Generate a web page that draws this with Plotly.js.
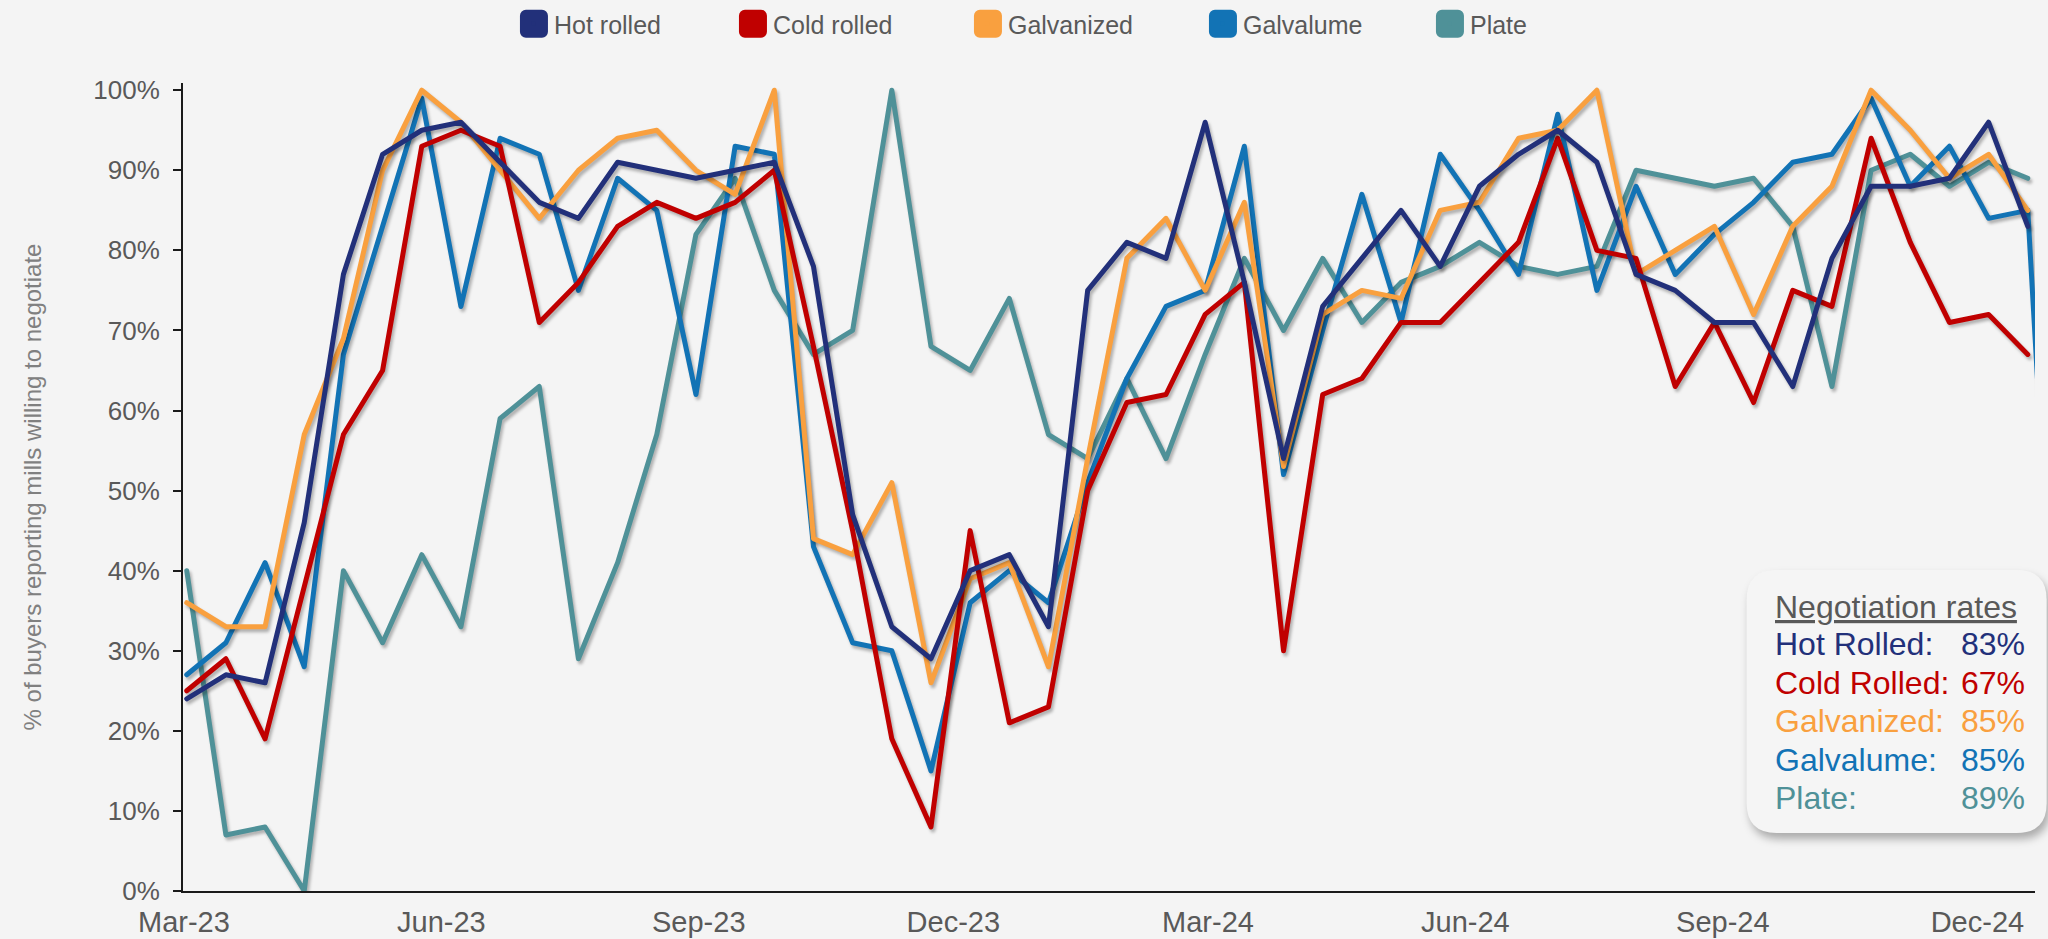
<!DOCTYPE html>
<html><head><meta charset="utf-8">
<script src="https://cdn.plot.ly/plotly-3.0.1.min.js"></script>
<style>
html,body{margin:0;padding:0;background:#f4f4f4;}
#chart{width:2048px;height:939px;}
.scatterlayer .trace path.js-line{filter:url(#lineShadow);stroke-linejoin:round;stroke-linecap:round;}
.shapelayer path{filter:url(#boxShadow);}
.legend .legendpoints path.scatterpts{stroke-width:12px !important;stroke-linejoin:round;}
</style></head><body>
<svg width="0" height="0" style="position:absolute"><defs>
<filter id="lineShadow" x="-5%" y="-10%" width="110%" height="125%" color-interpolation-filters="sRGB">
<feDropShadow dx="2" dy="3" stdDeviation="1.6" flood-color="#000" flood-opacity="0.28"/></filter>
<filter id="boxShadow" x="-10%" y="-10%" width="125%" height="140%" color-interpolation-filters="sRGB">
<feDropShadow dx="3" dy="6" stdDeviation="4" flood-color="#000" flood-opacity="0.3"/></filter>
</defs></svg>
<div id="chart"></div>
<script>
// ---- data ----
const dates = ['2023-03-02','2023-03-16','2023-03-30','2023-04-13','2023-04-27','2023-05-11','2023-05-25','2023-06-08','2023-06-22','2023-07-06','2023-07-20','2023-08-03','2023-08-17','2023-08-31','2023-09-14','2023-09-28','2023-10-12','2023-10-26','2023-11-09','2023-11-23','2023-12-07','2023-12-21','2024-01-04','2024-01-18','2024-02-01','2024-02-15','2024-02-29','2024-03-14','2024-03-28','2024-04-11','2024-04-25','2024-05-09','2024-05-23','2024-06-06','2024-06-20','2024-07-04','2024-07-18','2024-08-01','2024-08-15','2024-08-29','2024-09-12','2024-09-26','2024-10-10','2024-10-24','2024-11-07','2024-11-21','2024-12-05','2024-12-19','2025-01-02'];
const hotRolled  = [24,27,26,46,77,92,95,96,91,86,84,91,90,89,90,91,78,47,33,29,40,42,33,75,81,79,96,76,54,73,79,85,78,88,92,95,91,77,75,71,71,63,79,88,88,89,96,83];
const coldRolled = [25,29,19,38,57,65,93,95,93,71,76,83,86,84,86,90,68,45,19,8,45,21,23,50,61,62,72,76,30,62,64,71,71,76,81,94,80,79,63,71,61,75,73,94,81,71,72,67];
const galvanized = [36,33,33,57,69,90,100,96,90,84,90,94,95,90,87,100,44,42,51,26,39,41,28,54,79,84,75,86,53,72,75,74,85,86,94,95,100,77,80,83,72,83,88,100,95,89,92,85];
const galvalume  = [27,31,41,28,67,83,99,73,94,92,75,89,85,62,93,92,43,31,30,15,36,40,36,51,64,73,75,93,52,70,87,71,92,85,77,97,75,88,77,82,86,91,92,99,88,93,84,85,0];
const plate      = [40,7,8,0,40,31,42,33,59,63,29,41,57,82,89,75,67,70,100,68,65,74,57,54,64,54,67,79,70,79,71,76,78,81,78,77,78,90,89,88,89,83,63,90,92,88,91,89];
const seriesNames = ['Hot rolled','Cold rolled','Galvanized','Galvalume','Plate'];
const rateLabels  = ['Hot Rolled:','Cold Rolled:','Galvanized:','Galvalume:','Plate:'];
const rateIndex = 47;
const boxTitle = 'Negotiation rates';
const yTitle = '% of buyers reporting mills willing to negotiate';

// ---- styles ----
const colors = ['#22307a','#c00000','#f9a03f','#1273b5','#4f9198'];
const seriesData = [hotRolled, coldRolled, galvanized, galvalume, plate];
const drawOrder = [4,3,2,1,0];
const legendWidths = [174,190,190,182,60];
const FONT = 'Liberation Sans, Arial, sans-serif';

const traces = [];
drawOrder.forEach(i => {
  traces.push({
    x: dates.slice(0, seriesData[i].length), y: seriesData[i], type: 'scatter', mode: 'lines',
    name: seriesNames[i], showlegend: false, hoverinfo: 'skip',
    line: {color: colors[i], width: 5}
  });
});
seriesNames.forEach((n, i) => {
  traces.push({
    x: [null], y: [null], type: 'scatter', mode: 'markers', name: n,
    legendwidth: legendWidths[i],
    marker: {symbol: 'square', size: 16, color: colors[i], line: {color: colors[i], width: 5}}
  });
});

// rates box
const bx0 = 0.8443, bx1 = 1.0063, by0 = 0.0718, by1 = 0.3973, rx = 0.0162, ry = 0.0371;
const boxPath = `M ${bx0+rx},${by0} L ${bx1-rx},${by0} Q ${bx1},${by0} ${bx1},${by0+ry} L ${bx1},${by1-ry} Q ${bx1},${by1} ${bx1-rx},${by1} L ${bx0+rx},${by1} Q ${bx0},${by1} ${bx0},${by1-ry} L ${bx0},${by0+ry} Q ${bx0},${by0} ${bx0+rx},${by0} Z`;

const annotations = [{
  xref: 'paper', yref: 'paper', x: 0.8584, y: 0.3517, xanchor: 'left', yanchor: 'middle',
  text: `<span style="text-decoration:underline">${boxTitle}</span>`, showarrow: false,
  font: {family: FONT, size: 32, color: '#595959'}
}];
const rowY = [0.3051, 0.2577, 0.2101, 0.1619, 0.1145];
rateLabels.forEach((lab, i) => {
  annotations.push({xref: 'paper', yref: 'paper', x: 0.8584, y: rowY[i], xanchor: 'left', yanchor: 'middle',
    text: lab, showarrow: false, font: {family: FONT, size: 32, color: colors[i]}});
  annotations.push({xref: 'paper', yref: 'paper', x: 0.9955, y: rowY[i], xanchor: 'right', yanchor: 'middle',
    text: seriesData[i][rateIndex] + '%', showarrow: false, font: {family: FONT, size: 32, color: colors[i]}});
});

const layout = {
  width: 2048, height: 939,
  margin: {l: 183, r: 13, t: 83, b: 48, autoexpand: false},
  paper_bgcolor: '#f4f4f4', plot_bgcolor: '#f4f4f4',
  font: {family: FONT, color: '#595959'},
  hovermode: false,
  showlegend: true,
  legend: {orientation: 'h', x: 0.1787, xanchor: 'left', y: 1.073, yanchor: 'middle',
    font: {family: FONT, size: 25, color: '#595959'}, bgcolor: 'rgba(0,0,0,0)', traceorder: 'normal'},
  xaxis: {
    type: 'date', range: ['2023-02-28 16:00', '2024-12-21 14:00'],
    tick0: '2023-03-01', dtick: 'M3', tickformat: '%b-%y',
    showgrid: false, zeroline: false, showline: true, linecolor: '#1a1a1a', linewidth: 2,
    ticks: '', tickfont: {family: FONT, size: 29, color: '#595959'}, ticklabelstandoff: 4
  },
  yaxis: {
    range: [0, 100.9], dtick: 10, ticksuffix: '%',
    showgrid: false, zeroline: false, showline: true, linecolor: '#1a1a1a', linewidth: 2,
    ticks: 'outside', ticklen: 8, tickwidth: 2, tickcolor: '#1a1a1a',
    tickfont: {family: FONT, size: 26, color: '#595959'}, ticklabelstandoff: 8,
    title: {text: yTitle, font: {family: FONT, size: 24, color: '#808080'}, standoff: 45}
  },
  shapes: [{type: 'path', xref: 'paper', yref: 'paper', path: boxPath,
    fillcolor: '#f5f5f5', line: {width: 0}, layer: 'above'}],
  annotations: annotations
};

Plotly.newPlot('chart', traces, layout, {staticPlot: true, displayModeBar: false});
</script>
</body></html>
